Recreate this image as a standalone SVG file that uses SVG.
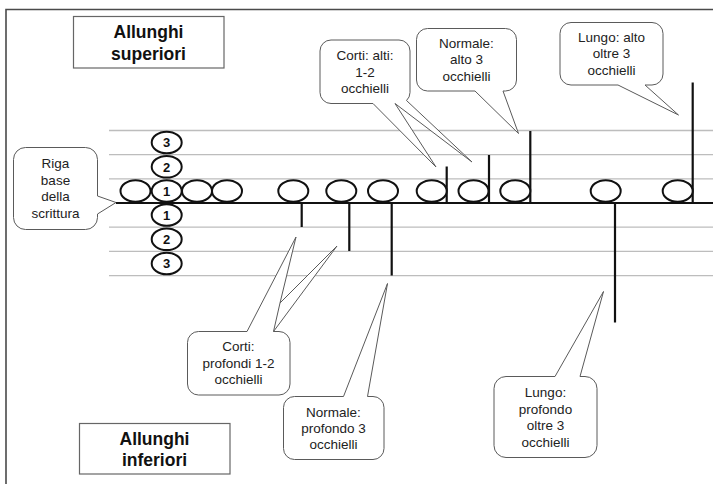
<svg xmlns="http://www.w3.org/2000/svg" width="713" height="484" viewBox="0 0 713 484">
  <style>
    .frame { fill: none; stroke: #4a4a4a; stroke-width: 1.6; }
    .guide { stroke: #bdbdbd; stroke-width: 1.3; }
    .base { stroke: #111; stroke-width: 2; }
    .loop { fill: #fff; stroke: #111; stroke-width: 2; }
    .stem { stroke: #111; stroke-width: 2.2; }
    .callout { fill: #fff; stroke: #5a5a5a; stroke-width: 1; stroke-linejoin: miter; }
    .title-box { fill: #fff; stroke: #666; stroke-width: 1.2; }
    .title { font-family: "Liberation Sans", Arial, sans-serif; font-size: 17.5px; font-weight: bold; fill: #111; text-anchor: middle; }
    .note { font-family: "Liberation Sans", Arial, sans-serif; font-size: 13.5px; fill: #222; text-anchor: middle; }
    .num { font-family: "Liberation Sans", Arial, sans-serif; font-size: 13px; font-weight: bold; fill: #111; text-anchor: middle; }
  </style>

  <!-- outer frame -->
  <path class="frame" d="M6,486 V9.5 H715"/>

  <!-- writing guide lines and base line -->
  <g id="guides">
    <line class="guide" x1="109" y1="130.5" x2="713" y2="130.5"/>
    <line class="guide" x1="109" y1="154.7" x2="713" y2="154.7"/>
    <line class="guide" x1="109" y1="178.9" x2="713" y2="178.9"/>
    <line class="guide" x1="109" y1="227.2" x2="713" y2="227.2"/>
    <line class="guide" x1="109" y1="251.4" x2="713" y2="251.4"/>
    <line class="guide" x1="109" y1="275.6" x2="713" y2="275.6"/>
    <line class="base" x1="116" y1="203" x2="713" y2="203"/>
  </g>

  <!-- stems (connectors from loops) -->
  <g id="stems">
    <line class="stem" x1="301.7" y1="203" x2="301.7" y2="227"/>
    <line class="stem" x1="349.3" y1="203" x2="349.3" y2="251"/>
    <line class="stem" x1="391.7" y1="203" x2="391.7" y2="275.5"/>
    <line class="stem" x1="446.7" y1="166.5" x2="446.7" y2="203"/>
    <line class="stem" x1="489" y1="155" x2="489" y2="203"/>
    <line class="stem" x1="530.3" y1="131" x2="530.3" y2="203"/>
    <line class="stem" x1="615" y1="203" x2="615" y2="322.5"/>
    <line class="stem" x1="692.7" y1="82.5" x2="692.7" y2="203"/>
  </g>

  <!-- scale of loops -->
  <g id="scale">
    <ellipse class="loop" cx="135.5" cy="191" rx="15" ry="10.8"/>
    <ellipse class="loop" cx="197" cy="191" rx="15" ry="10.8"/>
    <ellipse class="loop" cx="227" cy="191" rx="15" ry="10.8"/>
    <ellipse class="loop" cx="166.7" cy="142.5" rx="15" ry="10.8"/>
    <ellipse class="loop" cx="166.7" cy="166.8" rx="15" ry="10.8"/>
    <ellipse class="loop" cx="166.7" cy="191" rx="15" ry="10.8"/>
    <ellipse class="loop" cx="166.7" cy="215" rx="15" ry="10.8"/>
    <ellipse class="loop" cx="166.7" cy="239.3" rx="15" ry="10.8"/>
    <ellipse class="loop" cx="166.7" cy="263.5" rx="15" ry="10.8"/>
    <text class="num" x="166.7" y="147.2">3</text>
    <text class="num" x="166.7" y="171.5">2</text>
    <text class="num" x="166.7" y="195.7">1</text>
    <text class="num" x="166.7" y="219.7">1</text>
    <text class="num" x="166.7" y="244">2</text>
    <text class="num" x="166.7" y="268.2">3</text>
  </g>

  <!-- letter loops -->
  <g id="loops">
    <ellipse class="loop" cx="293.3" cy="191" rx="15" ry="10.8"/>
    <ellipse class="loop" cx="341.3" cy="191" rx="15" ry="10.8"/>
    <ellipse class="loop" cx="383" cy="191" rx="15" ry="10.8"/>
    <ellipse class="loop" cx="431.7" cy="191" rx="15" ry="10.8"/>
    <ellipse class="loop" cx="473.5" cy="191" rx="15" ry="10.8"/>
    <ellipse class="loop" cx="515.3" cy="191" rx="15" ry="10.8"/>
    <ellipse class="loop" cx="605.7" cy="191" rx="15" ry="10.8"/>
    <ellipse class="loop" cx="677.7" cy="191" rx="15" ry="10.8"/>
  </g>

  <!-- title boxes -->
  <g id="title-upper">
    <rect class="title-box" x="73.5" y="16.5" width="150.5" height="51.5"/>
    <text class="title" x="148.5" y="37.5">Allunghi</text>
    <text class="title" x="148.5" y="59.5">superiori</text>
  </g>
  <g id="title-lower">
    <rect class="title-box" x="79.5" y="423.5" width="150.5" height="50.5"/>
    <text class="title" x="154.5" y="444.5">Allunghi</text>
    <text class="title" x="154.5" y="465.5">inferiori</text>
  </g>

  <!-- callouts -->
  <g id="callout-baseline">
    <path class="callout" d="M25.5,147.5 H85.5 A12,12 0 0 1 97.5,159.5 V196 L116,202.5 L97.5,214 V217.5 A12,12 0 0 1 85.5,229.5 H25.5 A12,12 0 0 1 13.5,217.5 V159.5 A12,12 0 0 1 25.5,147.5 Z"/>
    <text class="note" x="55.5" y="168">Riga</text>
    <text class="note" x="55.5" y="184.5">base</text>
    <text class="note" x="55.5" y="201">della</text>
    <text class="note" x="55.5" y="217.5">scrittura</text>
  </g>

  <g id="callout-short-high">
    <path class="callout" d="M331,40 H399 A11,11 0 0 1 410,51 V92.5 A11,11 0 0 1 406.5,100.5 L472,162 L395,103.5 L436,167 L373,103.5 H331 A11,11 0 0 1 320,92.5 V51 A11,11 0 0 1 331,40 Z"/>
    <text class="note" x="365" y="60">Corti: alti:</text>
    <text class="note" x="365" y="76.5">1-2</text>
    <text class="note" x="365" y="93">occhielli</text>
  </g>

  <g id="callout-normal-high">
    <path class="callout" d="M427.5,28.5 H505.5 A11,11 0 0 1 516.5,39.5 V80 A11,11 0 0 1 505.5,91 H503 L518.5,133.5 L475,91 H427.5 A11,11 0 0 1 416.5,80 V39.5 A11,11 0 0 1 427.5,28.5 Z"/>
    <text class="note" x="466.5" y="47.5">Normale:</text>
    <text class="note" x="466.5" y="64">alto 3</text>
    <text class="note" x="466.5" y="80.5">occhielli</text>
  </g>

  <g id="callout-long-high">
    <path class="callout" d="M571,22.5 H652 A11,11 0 0 1 663,33.5 V74 A11,11 0 0 1 652,85 H645 L678.5,115 L618,85 H571 A11,11 0 0 1 560,74 V33.5 A11,11 0 0 1 571,22.5 Z"/>
    <text class="note" x="611.5" y="41.5">Lungo: alto</text>
    <text class="note" x="611.5" y="58">oltre 3</text>
    <text class="note" x="611.5" y="74.5">occhielli</text>
  </g>

  <g id="callout-short-low">
    <path class="callout" d="M198.5,331.5 H247 L296,237 L280,303 L337,246 L273.5,331.5 H279 A11,11 0 0 1 290,342.5 V384 A11,11 0 0 1 279,395 H198.5 A11,11 0 0 1 187.5,384 V342.5 A11,11 0 0 1 198.5,331.5 Z"/>
    <line class="callout" x1="280" y1="303" x2="273.5" y2="331.5"/>
    <text class="note" x="238.5" y="351">Corti:</text>
    <text class="note" x="238.5" y="367.5">profondi 1-2</text>
    <text class="note" x="238.5" y="384">occhielli</text>
  </g>

  <g id="callout-normal-low">
    <path class="callout" d="M294.5,396.5 H343.5 L387.5,283.5 L367.5,396.5 H373 A11,11 0 0 1 384,407.5 V448.5 A11,11 0 0 1 373,459.5 H294.5 A11,11 0 0 1 283.5,448.5 V407.5 A11,11 0 0 1 294.5,396.5 Z"/>
    <text class="note" x="333.5" y="416.5">Normale:</text>
    <text class="note" x="333.5" y="432.5">profondo 3</text>
    <text class="note" x="333.5" y="448.5">occhielli</text>
  </g>

  <g id="callout-long-low">
    <path class="callout" d="M506,376.5 H555 L603.5,291.5 L580,376.5 H585 A12,12 0 0 1 597,388.5 V445.5 A12,12 0 0 1 585,457.5 H506 A12,12 0 0 1 494,445.5 V388.5 A12,12 0 0 1 506,376.5 Z"/>
    <text class="note" x="545.5" y="397">Lungo:</text>
    <text class="note" x="545.5" y="413.5">profondo</text>
    <text class="note" x="545.5" y="430">oltre 3</text>
    <text class="note" x="545.5" y="446.5">occhielli</text>
  </g>
</svg>
